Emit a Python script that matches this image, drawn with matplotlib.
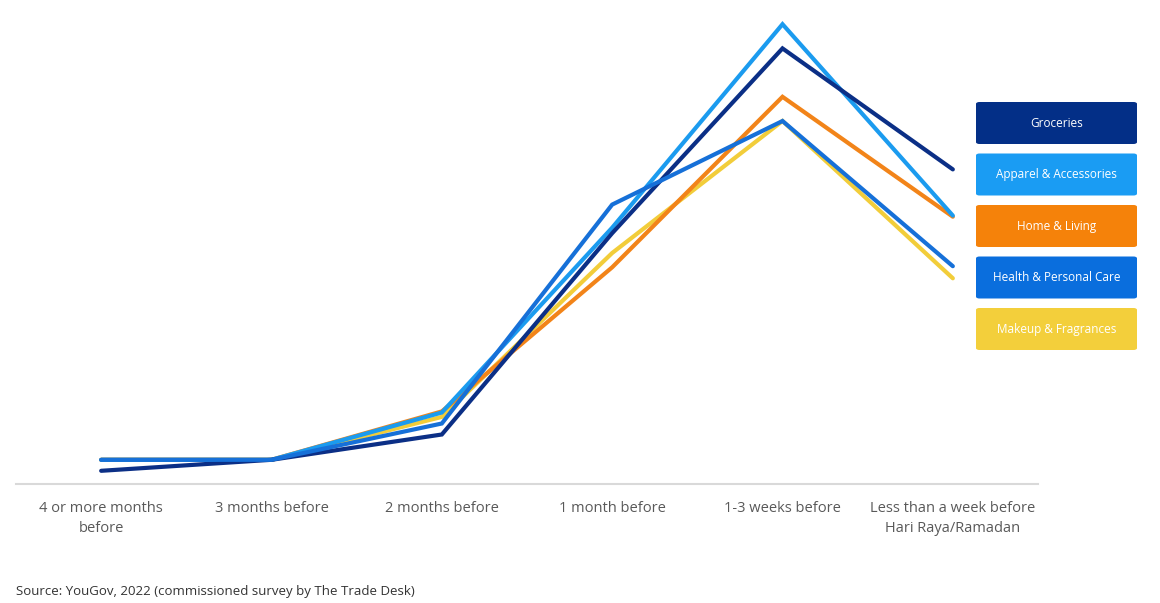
import matplotlib
matplotlib.use("Agg")
import matplotlib.pyplot as plt
from matplotlib.patches import FancyBboxPatch

categories = ["4 or more months\nbefore", "3 months before", "2 months before",
              "1 month before", "1-3 weeks before",
              "Less than a week before\nHari Raya/Ramadan"]

groceries = [1.2, 2.2, 4.5, 22.8, 39.6, 28.6]
apparel = [2.2, 2.2, 6.5, 23.3, 41.8, 24.4]
home = [2.2, 2.2, 6.6, 19.7, 35.2, 24.3]
health = [2.2, 2.2, 5.5, 25.4, 33.0, 19.8]
makeup = [2.2, 2.2, 6.1, 21.0, 33.0, 18.7]

series_names = ["Groceries", "Apparel & Accessories", "Home & Living",
                "Health & Personal Care", "Makeup & Fragrances"]
series_values = [groceries, apparel, home, health, makeup]
line_colors = ["#0B2F86", "#1B9BEF", "#F28419", "#1670D8", "#F2CD3A"]
box_colors = ["#032F87", "#1A9CF3", "#F5820A", "#0A6EDD", "#F3CF3B"]
zorders = [4, 3, 2, 5, 1]

plt.rcParams['font.family'] = ['Open Sans', 'DejaVu Sans']

fig = plt.figure(figsize=(11.6, 6.03), dpi=100)
ax = fig.add_axes([16 / 1160, (603 - 484) / 603, 1022 / 1160, 470 / 603])

x = list(range(len(categories)))
for name, vals, c, z in zip(series_names, series_values, line_colors, zorders):
    ax.plot(x, vals, color=c, lw=3.0, zorder=z, solid_joinstyle='miter',
            solid_capstyle='round', label=name)

ax.set_xlim(-0.5, 5.5)
ax.set_ylim(0, 470 / 11)
ax.set_xticks(x)
ax.set_xticklabels(categories, fontsize=10.5, color="#595959", linespacing=1.45)
ax.tick_params(axis='x', length=0, pad=12)
ax.set_yticks([])
for s in ["top", "right", "left"]:
    ax.spines[s].set_visible(False)
ax.spines["bottom"].set_color("#D9D9D9")
ax.spines["bottom"].set_linewidth(1.5)

# Legend as colored boxes
box_left = 976 / 1160
box_w = 161 / 1160
box_h = 42 / 603
tops = [102, 153.5, 205, 256.5, 308]
for name, c, top in zip(series_names, box_colors, tops):
    y0 = (603 - top - 42) / 603
    patch = FancyBboxPatch((box_left, y0), box_w, box_h,
                           boxstyle="round,pad=0,rounding_size=0.003",
                           transform=fig.transFigure, facecolor=c,
                           edgecolor="none")
    fig.add_artist(patch)
    fig.text(box_left + box_w / 2, y0 + box_h / 2, name, ha='center',
             va='center', color="white", fontsize=8.5)

fig.text(16 / 1160, (603 - 591) / 603, "Source: YouGov, 2022 (commissioned survey by The Trade Desk)",
         fontsize=9.5, color="#333333", ha='left', va='center')

fig.savefig("out.png", dpi=100, facecolor="white")
